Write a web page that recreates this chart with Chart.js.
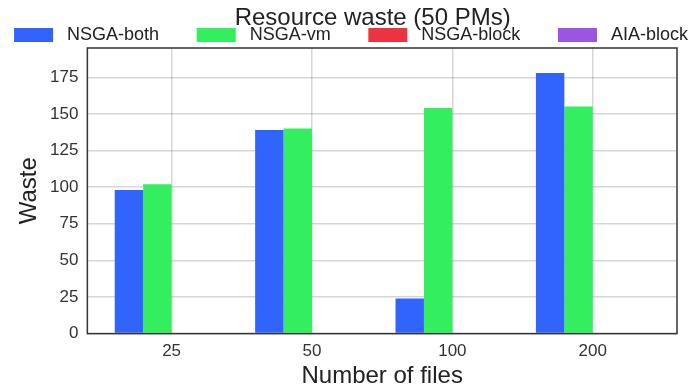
<!DOCTYPE html>
<html>
<head>
<meta charset="utf-8">
<script src="https://cdn.jsdelivr.net/npm/chart.js@4/dist/chart.umd.min.js"></script>
<style>
  html, body { margin: 0; padding: 0; background: #fff; }
</style>
</head>
<body>
<canvas id="wasteChart" width="692" height="388"></canvas>
<script>
// values
const fileCounts = ['25', '50', '100', '200'];
const nsgaBoth = [98, 139, 24, 178];
const nsgaVm = [102, 140, 154, 155];
const nsgaBlock = [0, 0, 0, 0];
const aiaBlock = [0, 0, 0, 0];
const seriesNames = ['NSGA-both', 'NSGA-vm', 'NSGA-block', 'AIA-block'];
const seriesColors = ['#3163ff', '#33ee5f', '#ee3340', '#9b55e0'];
const yTicks = [0, 25, 50, 75, 100, 125, 150, 175];

const FONT = 'Liberation Sans, Arial, Helvetica, sans-serif';
const gridColor = 'rgba(0, 0, 0, 0.16)';

// bars sit on positions 0..3 of a linear axis so the side margins match the original
const toPoints = values => values.map((v, i) => ({ x: i, y: v }));

const datasets = [nsgaBoth, nsgaVm, nsgaBlock, aiaBlock].map((values, i) => ({
    label: seriesNames[i],
    data: toPoints(values),
    backgroundColor: seriesColors[i],
    borderWidth: 0,
    categoryPercentage: 0.81,
    barPercentage: 1.0
}));

// plain frame round the plot area
const framePlugin = {
    id: 'frame',
    afterDraw(chart) {
        const { ctx, chartArea } = chart;
        ctx.save();
        ctx.strokeStyle = '#333333';
        ctx.lineWidth = 1.5;
        ctx.strokeRect(chartArea.left, chartArea.top, chartArea.right - chartArea.left, chartArea.bottom - chartArea.top);
        ctx.restore();
    }
};

// the legend leaves too much room below its row, so trim it
const legendTrim = {
    id: 'legendTrim',
    beforeUpdate(chart) {
        const legend = chart.legend;
        if (legend && !legend._trimmed) {
            const fit = legend.fit;
            legend.fit = function () {
                fit.call(this);
                this.height -= 6;
            };
            legend._trimmed = true;
        }
    }
};

// empty axis that only keeps a margin on the right
const spacerAxis = (position, size) => ({
    type: 'linear',
    position: position,
    ticks: { display: false },
    grid: { display: false },
    border: { display: false },
    afterFit: scale => { scale.width = size; }
});

new Chart(document.getElementById('wasteChart').getContext('2d'), {
    type: 'bar',
    data: { datasets: datasets },
    options: {
        responsive: false,
        animation: false,
        layout: { padding: 0 },
        plugins: {
            title: {
                display: true,
                // leading spaces push the centred title a little to the right, as in the original
                text: '        Resource waste (50 PMs)',
                color: '#222222',
                font: { family: FONT, size: 24, weight: 'normal', lineHeight: 1.0 },
                padding: { top: 6, bottom: -8 }
            },
            legend: {
                position: 'top',
                align: 'end',
                labels: {
                    boxWidth: 39,
                    boxHeight: 14,
                    padding: 4,
                    color: '#222222',
                    font: { family: FONT, size: 18 },
                    // widen the gaps between entries with trailing spaces
                    generateLabels: chart => Chart.defaults.plugins.legend.labels.generateLabels(chart)
                        .map((item, i, arr) => {
                            item.text = ' ' + item.text + (i < arr.length - 1 ? '      \u2009' : '');
                            return item;
                        })
                }
            },
            tooltip: { enabled: false }
        },
        scales: {
            x: {
                type: 'linear',
                min: -0.6,
                max: 3.6,
                offset: false,
                z: 1,
                afterBuildTicks: scale => {
                    scale.ticks = fileCounts.map((f, i) => ({ value: i }));
                },
                ticks: {
                    padding: 8,
                    color: '#333333',
                    font: { family: FONT, size: 17 },
                    callback: value => fileCounts[value]
                },
                grid: { color: gridColor, lineWidth: 1.5, drawTicks: false, offset: false },
                border: { display: false },
                title: {
                    display: true,
                    text: 'Number of files',
                    color: '#222222',
                    font: { family: FONT, size: 24, lineHeight: 1.0 },
                    padding: { top: -6, bottom: 0 }
                }
            },
            y: {
                min: 0,
                max: 195,
                z: 1,
                afterBuildTicks: scale => {
                    scale.ticks = yTicks.map(v => ({ value: v }));
                },
                ticks: {
                    padding: 9,
                    color: '#333333',
                    font: { family: FONT, size: 17 }
                },
                grid: { color: gridColor, lineWidth: 1.5, drawTicks: false },
                border: { display: false },
                title: {
                    display: true,
                    text: 'Waste',
                    color: '#222222',
                    font: { family: FONT, size: 24, lineHeight: 1.0 },
                    padding: { top: 17, bottom: 0 }
                }
            },
            yRight: spacerAxis('right', 15)
        }
    },
    plugins: [framePlugin, legendTrim]
});
</script>
</body>
</html>
